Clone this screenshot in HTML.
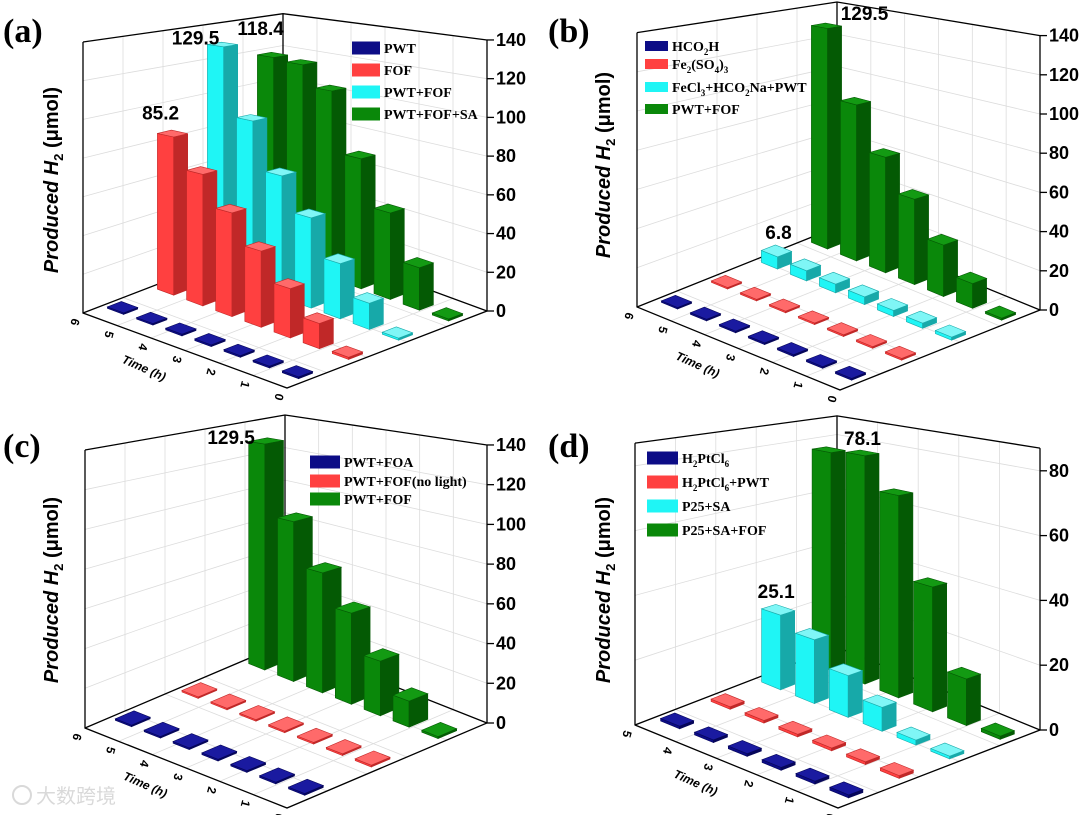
<!DOCTYPE html>
<html><head><meta charset="utf-8"><style>
html,body{margin:0;padding:0;background:#fff;}
svg{display:block;font-family:"Liberation Sans",Arial,sans-serif;}
.leg{font-family:"Liberation Serif","Times New Roman",serif;font-weight:bold;font-size:14px;}
</style></head><body>
<svg id="fig" width="1080" height="815" viewBox="0 0 1080 815" xmlns="http://www.w3.org/2000/svg"></svg>
<script>
// ---- data (bars ordered back -> front, i.e. time 6h ... 0h) ----
const aPWT=[0.8,0.8,0.8,0.8,0.8,0.8,0.8];
const aFOF=[85.2,69,53,38,24,12,1];
const aPWTFOF=[129.5,91,65,47,28,13,1];
const aPWTFOFSA=[118.4,117,105,71,46,22,1];
const bHCO2H=[0.8,0.8,0.8,0.8,0.8,0.8,0.8];
const bFe2SO4=[0.8,0.8,0.8,0.8,0.8,0.8,0.8];
const bFeCl3=[6.8,5.5,4.5,4,3,2.5,1.5];
const bPWTFOF=[129.5,89,64,46,27,12.6,1];
const cFOA=[0.8,0.8,0.8,0.8,0.8,0.8,0.8];
const cNoLight=[0.8,0.8,0.8,0.8,0.8,0.8,0.8];
const cPWTFOF=[129.5,89,65,48,28,13,1];
const dH2PtCl6=[0.8,0.8,0.8,0.8,0.8,0.8];
const dH2PtCl6PWT=[0.8,0.8,0.8,0.8,0.8,0.8];
const dP25SA=[25.1,20.8,13.2,7.3,1.5,0.8];
const dP25SAFOF=[77,78.1,67,40,14.5,1];
const ticks140=[0,20,40,60,80,100,120,140];
const ticks80=[0,20,40,60,80];
const time7=['6','5','4','3','2','1','0'];
const time6=['5','4','3','2','1','0'];

const NS='http://www.w3.org/2000/svg';
const svg=document.getElementById('fig');
function mk(tag,attrs,parent){const e=document.createElementNS(NS,tag);for(const k in attrs)e.setAttribute(k,attrs[k]);(parent||svg).appendChild(e);return e;}
const COL={
 blue:{l:'#0c0c86',r:'#06065a',t:'#1a1aa0'},
 red:{l:'#ff4040',r:'#c02828',t:'#ff6a6a'},
 cyan:{l:'#1ff5f5',r:'#17a9a9',t:'#7ff6f6'},
 green:{l:'#0a880a',r:'#045a04',t:'#139a13'}
};
function P(pn,u,v,z){const f=1-0.18*(v-u);return [pn.L[0]+u*pn.U[0]+v*pn.V[0], pn.L[1]+u*pn.U[1]+v*pn.V[1]-z*pn.k*f];}
function pts(a){return a.map(p=>p[0].toFixed(1)+','+p[1].toFixed(1)).join(' ');}

function panel(pn){
 const g=mk('g',{});
 
 
 const nS=pn.series.length,nT=pn.series[0].vals.length,zmax=pn.zmax;
 const grid=mk('g',{stroke:'#dcdcdc','stroke-width':0.8,fill:'none'},g);
 
 
 pn.ticks.forEach(t=>{
  const a=P(pn,0,0,t),b=P(pn,0,1,t),c=P(pn,1,1,t);
  mk('polyline',{points:pts([a,b,c])},grid);
 });
 const nL=pn.tlabels.length;
 for(let k=1;k<nL-1;k++){const u=k/(nL-1);
  mk('line',{x1:P(pn,u,1,0)[0],y1:P(pn,u,1,0)[1],x2:P(pn,u,1,zmax)[0],y2:P(pn,u,1,zmax)[1]},grid);
  mk('line',{x1:P(pn,u,0,0)[0],y1:P(pn,u,0,0)[1],x2:P(pn,u,1,0)[0],y2:P(pn,u,1,0)[1]},grid);}
 for(let k=1;k<5;k++){const v=k/5;
  mk('line',{x1:P(pn,0,v,0)[0],y1:P(pn,0,v,0)[1],x2:P(pn,0,v,zmax)[0],y2:P(pn,0,v,zmax)[1]},grid);
  mk('line',{x1:P(pn,0,v,0)[0],y1:P(pn,0,v,0)[1],x2:P(pn,1,v,0)[0],y2:P(pn,1,v,0)[1]},grid);}
 const fr=mk('g',{stroke:'#000','stroke-width':1.3,fill:'none'},g);
 
 
 const Lb=P(pn,0,0,0),Bb=P(pn,0,1,0),Rb=P(pn,1,1,0),Fb=P(pn,1,0,0);
 const Lt=P(pn,0,0,zmax),Bt=P(pn,0,1,zmax),Rt=P(pn,1,1,zmax);
 mk('polyline',{points:pts([Lt,Lb,Fb,Rb,Rt])},fr);
 mk('polyline',{points:pts([Lt,Bt,Rt])},fr);
 mk('polyline',{points:pts([Lb,Bb,Rb])},fr);
 mk('line',{x1:Bb[0],y1:Bb[1],x2:Bt[0],y2:Bt[1]},fr);
 const bars=[];
 pn.series.forEach((s,si)=>s.vals.forEach((val,ti)=>{
  const uc=(ti+0.5)/nT,vc=(si+0.5)/nS;bars.push({si,ti,val,uc,vc,col:s.col,d:(1-uc)+vc});}));
 bars.sort((a,b)=>b.d-a.d);
 const du=0.28/nT,dv=0.14/nS;
 bars.forEach(b=>{
  const u0=b.uc-du,u1=b.uc+du,v0=b.vc-dv,v1=b.vc+dv,z=b.val,c=COL[b.col];
  const bg=mk('g',{'stroke-width':0.6},g);
  
  
  mk('polygon',{points:pts([P(pn,u0,v0,0),P(pn,u1,v0,0),P(pn,u1,v0,z),P(pn,u0,v0,z)]),fill:c.l,stroke:c.r},bg);
  mk('polygon',{points:pts([P(pn,u1,v0,0),P(pn,u1,v1,0),P(pn,u1,v1,z),P(pn,u1,v0,z)]),fill:c.r,stroke:c.r},bg);
  mk('polygon',{points:pts([P(pn,u0,v0,z),P(pn,u1,v0,z),P(pn,u1,v1,z),P(pn,u0,v1,z)]),fill:c.t,stroke:c.r},bg);
  if(pn.labels){pn.labels.forEach(lb=>{if(lb.s===b.si&&lb.t===b.ti){
   const tp=P(pn,b.uc,b.vc,z);
   const tx=mk('text',{x:tp[0]+lb.dx,y:tp[1]+lb.dy,'font-size':19,'font-weight':'bold','text-anchor':'middle'},svg);
   tx.textContent=b.val.toFixed(1);
   
   
  }});}
 });
 const ax=mk('g',{},g);
 
 
 pn.ticks.forEach(t=>{const p=P(pn,1,1,t);
  mk('line',{x1:p[0],y1:p[1],x2:p[0]+7,y2:p[1],stroke:'#000','stroke-width':1.3},ax);
  const tx=mk('text',{x:p[0]+9,y:p[1]+6,'font-size':18,'font-weight':'bold'},ax);tx.textContent=t;
  
  });
 pn.tlabels.forEach((lab,k)=>{const u=k/(nL-1);const p=P(pn,u,0,0);
  const tx=mk('text',{x:p[0]-8,y:p[1]+13,'font-size':12,'font-weight':'bold','text-anchor':'middle',transform:`rotate(105 ${p[0]-8} ${p[1]+9})`},g);
  tx.textContent=lab;
  
  });
 const mid=P(pn,0.33,0,0);
 const tt=mk('text',{x:mid[0]-8,y:mid[1]+34,'font-size':12,'font-weight':'bold','font-style':'italic','text-anchor':'middle',transform:`rotate(24 ${mid[0]-8} ${mid[1]+34})`},g);
 tt.textContent='Time (h)';
 
 
 const yt=mk('text',{x:0,y:0,'font-size':20,'font-weight':'bold',transform:`translate(${pn.yt[0]},${pn.yt[1]}) rotate(-90)`,'text-anchor':'middle'},g);
 yt.innerHTML='<tspan font-style="italic">Produced H</tspan><tspan font-size="13" dy="5">2</tspan><tspan dy="-5"> (μmol)</tspan>';
 
 
 const pl=mk('text',{x:pn.letter[0],y:pn.letter[1],'font-size':34,'font-weight':'bold','font-family':'"Liberation Serif",serif'},g);
 pl.textContent=pn.letterText;
 
 
 const lg=mk('g',{},g);
 
 
 pn.series.forEach((s,i)=>{const y=pn.leg.y[i];
  const e=mk('g',{},lg);
  
  
  mk('rect',{x:pn.leg.x,y:y-pn.leg.h/2,width:pn.leg.w,height:pn.leg.h,fill:COL[s.col].l},e);
  const tx=mk('text',{x:pn.leg.x+pn.leg.w+4,y:y+5,class:'leg'},e);tx.innerHTML=s.label;});
}
const sub=n=>`<tspan font-size="9" dy="4">${n}</tspan><tspan dy="-4">`;
const panels=[
 {name:'panel-a',letterText:'(a)',letter:[3,42],L:[83,313],U:[204,75],V:[200,-77],k:1.936,zmax:140,ticks:ticks140,tlabels:time7,yt:[58,180],
  series:[{key:'pwt',col:'blue',vals:aPWT,label:'PWT'},{key:'fof',col:'red',vals:aFOF,label:'FOF'},{key:'pwt-fof',col:'cyan',vals:aPWTFOF,label:'PWT+FOF'},{key:'pwt-fof-sa',col:'green',vals:aPWTFOFSA,label:'PWT+FOF+SA'}],
  leg:{x:352,w:28,h:13,y:[48,70,92,114]},
  labels:[{s:1,t:0,dx:-12,dy:-14},{s:2,t:0,dx:-27,dy:0},{s:3,t:0,dx:-12,dy:-20}]},
 {name:'panel-b',letterText:'(b)',letter:[548,42],L:[637,307],U:[203,83],V:[200,-80],k:1.96,zmax:140,ticks:ticks140,tlabels:time7,yt:[610,165],
  series:[{key:'hco2h',col:'blue',vals:bHCO2H,label:'HCO'+sub(2)+'H</tspan>'},{key:'fe2so4',col:'red',vals:bFe2SO4,label:'Fe'+sub(2)+'(SO'+sub(4)+')'+sub(3)+'</tspan></tspan></tspan>'},{key:'fecl3',col:'cyan',vals:bFeCl3,label:'FeCl'+sub(3)+'+HCO'+sub(2)+'Na+PWT</tspan></tspan>'},{key:'pwt-fof',col:'green',vals:bPWTFOF,label:'PWT+FOF'}],
  leg:{x:645,w:23,h:10,y:[46,64,87,109]},
  labels:[{s:3,t:0,dx:38,dy:-6},{s:2,t:0,dx:2,dy:-12}]},
 {name:'panel-c',letterText:'(c)',letter:[3,457],L:[85,728],U:[202,80],V:[200,-85],k:1.986,zmax:140,ticks:ticks140,tlabels:time7,yt:[58,590],
  series:[{key:'pwt-foa',col:'blue',vals:cFOA,label:'PWT+FOA'},{key:'pwt-fof-nolight',col:'red',vals:cNoLight,label:'PWT+FOF(no light)'},{key:'pwt-fof',col:'green',vals:cPWTFOF,label:'PWT+FOF'}],
  leg:{x:310,w:30,h:13,y:[462,481,499]},
  labels:[{s:2,t:0,dx:-35,dy:3}]},
 {name:'panel-d',letterText:'(d)',letter:[548,457],L:[635,725],U:[203,83],V:[202,-78],k:3.24,zmax:87,ticks:ticks80,tlabels:time6,yt:[610,590],
  series:[{key:'h2ptcl6',col:'blue',vals:dH2PtCl6,label:'H'+sub(2)+'PtCl'+sub(6)+'</tspan></tspan>'},{key:'h2ptcl6-pwt',col:'red',vals:dH2PtCl6PWT,label:'H'+sub(2)+'PtCl'+sub(6)+'+PWT</tspan></tspan>'},{key:'p25-sa',col:'cyan',vals:dP25SA,label:'P25+SA'},{key:'p25-sa-fof',col:'green',vals:dP25SAFOF,label:'P25+SA+FOF'}],
  leg:{x:647,w:31,h:13,y:[458,482,506,530]},
  labels:[{s:2,t:0,dx:-2,dy:-12},{s:3,t:1,dx:0,dy:-8}]}
];
panels.forEach(panel);
const wm=mk('g',{opacity:0.55});


mk('circle',{cx:22,cy:795,r:9,fill:'none',stroke:'#bbb','stroke-width':2},wm);
const wt=mk('text',{x:36,y:803,'font-size':20,fill:'#bbb','font-family':'"Liberation Sans","Noto Sans CJK SC",sans-serif'},wm);
wt.textContent='大数跨境';
</script>
</body></html>
